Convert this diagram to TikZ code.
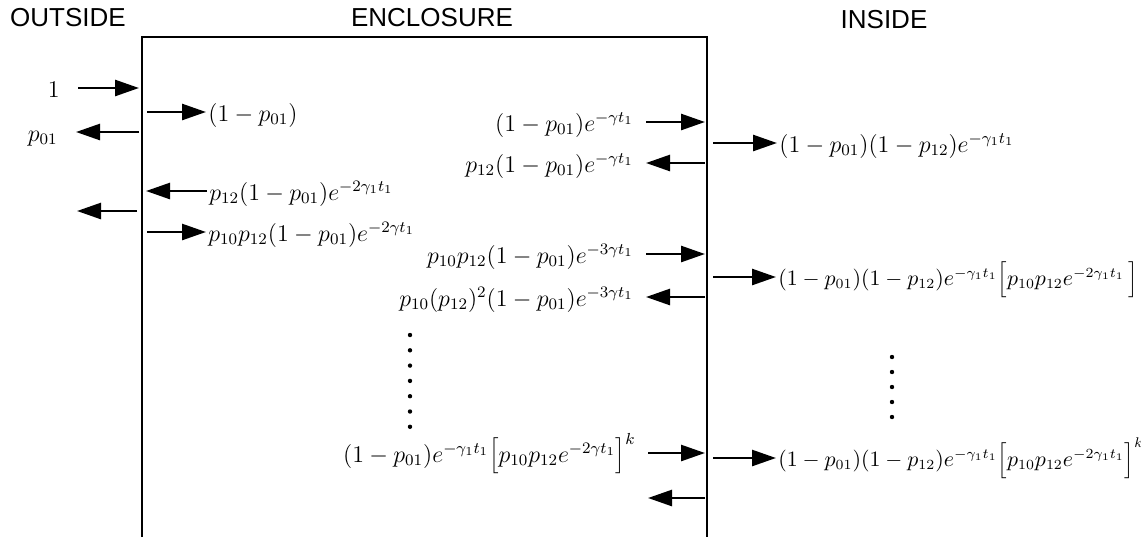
\documentclass[tikz,border=0pt]{standalone}
\usepackage{fontspec}
\newfontfamily\headfont{Liberation Sans}
\usetikzlibrary{arrows.meta}
\begin{document}
\begin{tikzpicture}[x=0.5pt,y=-0.5pt,
  wall/.style={line width=1.4pt},
  flow/.style={line width=1.3pt,-{Triangle[length=12pt,width=8pt]}},
  head/.style={font=\headfont\fontsize{13}{15}\selectfont},
  lbl/.style={font=\fontsize{11.5}{13}\selectfont,inner sep=1pt},
  lbllong/.style={lbl,font=\fontsize{10.6}{12}\selectfont}]
  \useasboundingbox (0,0) rectangle (1141,537);

  % Enclosure walls, open at the bottom
  \draw[wall] (142,537) -- (142,37) -- (707,37) -- (707,537);

  % Region headings
  \node[head] (outside) at (68,18) {OUTSIDE};
  \node[head] (enclosure) at (432,18) {ENCLOSURE};
  \node[head] (inside) at (884,20) {INSIDE};

  % Outside: incident flux, reflected part, escaping part
  \coordinate (o1) at (139,88);
  \node[lbl,anchor=base east] (one) at (62,97) {$1$};
  \draw[flow,shorten <=8pt] (one.east |- o1) -- (o1);
  \coordinate (o2) at (139,132);
  \node[lbl,anchor=base east] (refl) at (60,141) {$p_{01}$};
  \draw[flow,shorten >=8pt] (o2) -- (refl.east |- o2);
  \coordinate (o3) at (137,211);
  \coordinate (o3end) at (77,211);
  \draw[flow] (o3) -- (o3end);

  % Enclosure, left wall
  \coordinate (l1) at (147,112);
  \node[lbl,anchor=base west] (lin0) at (206,121) {$(1-p_{01})$};
  \draw[flow] (l1) -- (l1 -| lin0.west);
  \coordinate (l2) at (146,191);
  \node[lbl,anchor=base west] (lback1) at (207,200) {$p_{12}(1-p_{01})e^{-2\gamma_1 t_1}$};
  \draw[flow] (l2 -| lback1.west) -- (l2);
  \coordinate (l3) at (147,232);
  \node[lbl,anchor=base west] (lin1) at (206,241) {$p_{10}p_{12}(1-p_{01})e^{-2\gamma t_1}$};
  \draw[flow] (l3) -- (l3 -| lin1.west);

  % Enclosure, right wall
  \coordinate (r1) at (705,122);
  \node[lbl,anchor=base east] (rhit1) at (636,131) {$(1-p_{01})e^{-\gamma t_1}$};
  \draw[flow,shorten <=5pt] (rhit1.east |- r1) -- (r1);
  \coordinate (r2) at (705,163);
  \node[lbl,anchor=base east] (rback1) at (636,172) {$p_{12}(1-p_{01})e^{-\gamma t_1}$};
  \draw[flow,shorten >=5pt] (r2) -- (rback1.east |- r2);
  \coordinate (r3) at (705,254);
  \node[lbl,anchor=base east] (rhit2) at (636,263) {$p_{10}p_{12}(1-p_{01})e^{-3\gamma t_1}$};
  \draw[flow,shorten <=5pt] (rhit2.east |- r3) -- (r3);
  \coordinate (r4) at (705,297);
  \node[lbl,anchor=base east] (rback2) at (636,306) {$p_{10}(p_{12})^2(1-p_{01})e^{-3\gamma t_1}$};
  \draw[flow,shorten >=5pt] (r4) -- (rback2.east |- r4);
  \foreach \k in {0,...,6}
    \fill (410,{335+15.3*\k}) circle (1.1pt);
  \coordinate (r5) at (705,453);
  \node[lbl,anchor=base east] (rhitk) at (638,462) {$(1-p_{01})e^{-\gamma_1 t_1}\Bigl[p_{10}p_{12}e^{-2\gamma t_1}\Bigr]^k$};
  \draw[flow,shorten <=5pt] (rhitk.east |- r5) -- (r5);
  \coordinate (r6) at (705,498);
  \coordinate (r6end) at (648,498);
  \draw[flow] (r6) -- (r6end);

  % Inside: transmitted fractions
  \coordinate (t1) at (713,143);
  \node[lbl,anchor=base west] (pass1) at (777,152) {$(1-p_{01})(1-p_{12})e^{-\gamma_1 t_1}$};
  \draw[flow] (t1) -- (t1 -| pass1.west);
  \coordinate (t2) at (713,277);
  \node[lbllong,anchor=base west] (pass2) at (776,285) {$(1-p_{01})(1-p_{12})e^{-\gamma_1 t_1}\Bigl[p_{10}p_{12}e^{-2\gamma_1 t_1}\,\Bigr]$};
  \draw[flow] (t2) -- (t2 -| pass2.west);
  \foreach \k in {0,...,4}
    \fill (892,{357+15*\k}) circle (1.1pt);
  \coordinate (t3) at (713,458);
  \node[lbllong,anchor=base west] (passk) at (776,466) {$(1-p_{01})(1-p_{12})e^{-\gamma_1 t_1}\Bigl[p_{10}p_{12}e^{-2\gamma_1 t_1}\Bigr]^k$};
  \draw[flow] (t3) -- (t3 -| passk.west);
\end{tikzpicture}
\end{document}
